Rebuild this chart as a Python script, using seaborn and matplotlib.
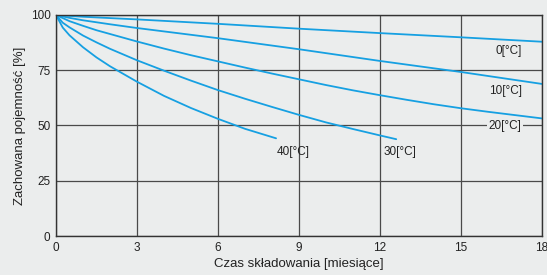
import matplotlib
matplotlib.use('Agg')
import matplotlib.pyplot as plt
import seaborn as sns
import pandas as pd

# Months of storage and retained capacity [%] per storage temperature
t_0 = [0, 1, 3, 6, 9, 12, 15, 18]
c_0 = [100, 99.2, 98.0, 96.0, 93.8, 91.8, 89.9, 87.9]

t_10 = [0, 0.5, 1, 2, 3, 4.5, 6, 9, 12, 15, 18]
c_10 = [100, 98.7, 97.6, 95.8, 94.1, 91.8, 89.5, 84.5, 79.2, 74.2, 68.8]

t_20 = [0, 0.5, 1, 1.5, 2, 3, 4, 5, 6, 7, 8, 9, 10, 11, 12, 13, 14, 15, 16, 17, 18]
c_20 = [100, 97.2, 95.1, 93.1, 91.4, 88.0, 84.8, 81.8, 79.0, 76.2, 73.5, 70.9,
        68.3, 65.9, 63.7, 61.6, 59.6, 57.8, 56.2, 54.7, 53.2]

t_30 = [0, 0.25, 0.5, 1, 1.5, 2, 3, 4, 5, 6, 7, 8, 9, 10, 11, 12, 12.6]
c_30 = [100, 96.5, 94.4, 90.7, 87.6, 84.7, 79.5, 74.8, 70.3, 66.0, 62.1, 58.4,
        54.8, 51.4, 48.4, 45.5, 43.8]

t_40 = [0, 0.25, 0.5, 1, 1.5, 2, 3, 4, 5, 6, 7, 8.15]
c_40 = [100, 94.3, 90.8, 85.4, 80.8, 76.8, 69.8, 63.4, 57.9, 53.0, 48.5, 44.2]

series = {'0': (t_0, c_0), '10': (t_10, c_10), '20': (t_20, c_20),
          '30': (t_30, c_30), '40': (t_40, c_40)}

frames = []
for name, (t, c) in series.items():
    frames.append(pd.DataFrame({'t': t, 'c': c, 'temp': name}))
df = pd.concat(frames, ignore_index=True)

bg = '#ebeded'
blue = '#16a0e2'

sns.set_style('white', rc={'axes.facecolor': bg, 'figure.facecolor': bg})
plt.rcParams['font.family'] = ['Liberation Sans', 'DejaVu Sans']

fig = plt.figure(figsize=(5.47, 2.75), dpi=100)
ax = fig.add_axes([0.1024, 0.1418, 0.8885, 0.8037])

sns.lineplot(data=df, x='t', y='c', units='temp', estimator=None, sort=False,
             color=blue, linewidth=1.3, ax=ax)

ax.set_xlim(0, 18)
ax.set_ylim(0, 100)
ax.set_xticks(range(0, 19, 3))
ax.set_yticks([0, 25, 50, 75, 100])
ax.grid(True, color='#4a4a4a', linewidth=0.9)
ax.set_axisbelow(True)
for s in ax.spines.values():
    s.set_color('#333333')
    s.set_linewidth(1.0)
ax.tick_params(length=0, labelsize=8.5, colors='#222222', pad=4)

ax.set_xlabel('Czas składowania [miesiące]', fontsize=9.5, color='#222222', labelpad=3)
ax.set_ylabel('Zachowana pojemność [%]', fontsize=9.5, color='#222222', labelpad=3)

lab = dict(fontsize=8.5, color='#222222')
ax.text(17.25, 83.7, '0[°C]', ha='right', va='center', **lab)
ax.text(17.25, 65.8, '10[°C]', ha='right', va='center', **lab)
ax.text(17.25, 49.6, '20[°C]', ha='right', va='center',
        bbox=dict(facecolor=bg, edgecolor='none', pad=1), **lab)
ax.text(8.17, 38.2, '40[°C]', ha='left', va='center', **lab)
ax.text(12.12, 38.2, '30[°C]', ha='left', va='center', **lab)

fig.savefig('out.png', dpi=100, facecolor=bg)
